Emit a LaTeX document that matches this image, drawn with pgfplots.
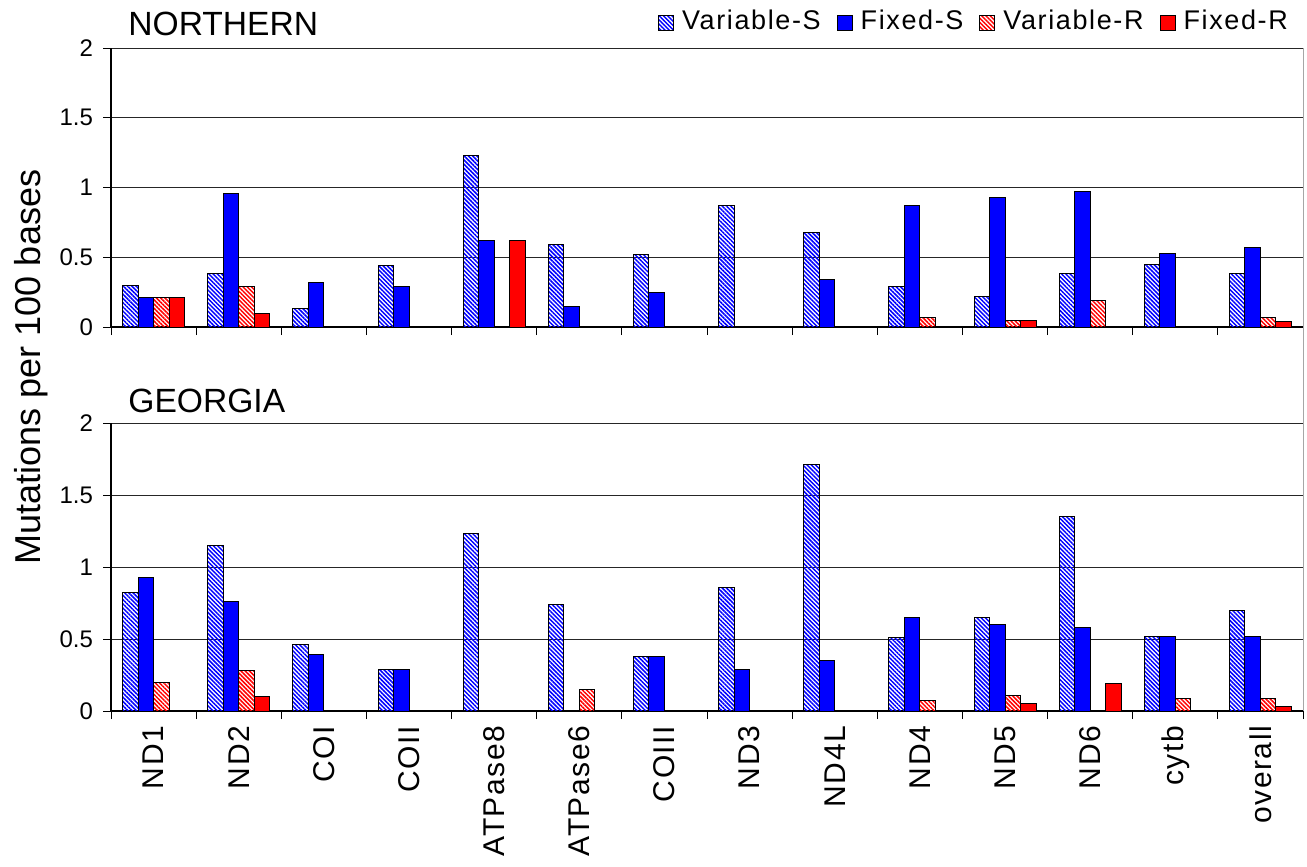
\documentclass[border=0pt]{standalone}
\usepackage{fontspec}
\setmainfont{Liberation Sans}
\newfontfamily\legfont[LetterSpace=6]{Liberation Sans}
\newfontfamily\labfont[LetterSpace=5]{Liberation Sans}
\usepackage{pgfplots}
\pgfplotsset{compat=1.18}
\usepackage{pgfplotstable}
\usetikzlibrary{patterns.meta}

\pgfplotstableread{
x VS FS VR FR
0 0.30 0.21 0.21 0.21
1 0.38 0.96 0.29 0.10
2 0.13 0.32 nan nan
3 0.44 0.29 nan nan
4 1.23 0.62 nan 0.62
5 0.59 0.15 nan nan
6 0.52 0.25 nan nan
7 0.87 nan nan nan
8 0.68 0.34 nan nan
9 0.29 0.87 0.07 nan
10 0.22 0.93 0.05 0.05
11 0.38 0.97 0.19 nan
12 0.45 0.53 nan nan
13 0.38 0.57 0.07 0.04
}\north

\pgfplotstableread{
x VS FS VR FR
0 0.82 0.93 0.20 nan
1 1.15 0.76 0.28 0.10
2 0.46 0.39 nan nan
3 0.29 0.29 nan nan
4 1.23 nan nan nan
5 0.74 nan 0.15 nan
6 0.38 0.38 nan nan
7 0.86 0.29 nan nan
8 1.71 0.35 nan nan
9 0.51 0.65 0.07 nan
10 0.65 0.60 0.11 0.05
11 1.35 0.58 nan 0.19
12 0.52 0.52 0.09 nan
13 0.70 0.52 0.09 0.03
}\georgia

\pgfplotsset{
  sqleg/.style={legend image code/.code={\draw[##1,line width=0.5pt] (0pt,-4.5pt) rectangle (7.5pt,3pt);}},
  vs/.style={draw=black, line width=0.5pt, pattern={Lines[angle=-45,distance=1.5pt,line width=0.75pt]}, pattern color=blue, sqleg},
  fs/.style={draw=black, line width=0.5pt, fill=blue, sqleg},
  vr/.style={draw=black, line width=0.5pt, pattern={Lines[angle=-45,distance=1.5pt,line width=0.75pt]}, pattern color=red, sqleg},
  fr/.style={draw=black, line width=0.5pt, fill=red, sqleg},
  panel/.style={
    scale only axis, width=596pt,
    ybar=0pt, bar width=7.75pt,
    xmin=-0.5, xmax=13.5, ymin=0, ymax=2,
    ytick={0,0.5,1,1.5,2},
    xtick={-0.5,0.5,...,13.5},
    xticklabels={},
    major tick length=4pt,
    tick align=outside,
    axis x line*=bottom, axis y line*=left,
    axis line style={line width=0.6pt, black},
    every tick/.style={black, line width=0.5pt},
    ymajorgrids,
    major grid style={black!85, line width=0.5pt},
    /pgf/number format/assume math mode=true,
    yticklabel style={font=\fontsize{12}{14}\selectfont, xshift=-1.5pt},
    clip=false,
  }
}

\begin{document}
\begin{tikzpicture}
\path[use as bounding box] (0pt,0pt) rectangle (653.5pt,-433.5pt);

\begin{axis}[panel, height=139.5pt,
  at={(55.5pt,-163.5pt)}, anchor=south west,
  legend style={draw=none, fill=none, legend columns=4,
    at={(0.996,1.165)}, anchor=north east,
    font=\legfont\fontsize{13.5}{15}\selectfont,
    /tikz/every odd column/.append style={column sep=2pt},
    /tikz/every even column/.append style={column sep=6pt}},
]
\addplot[vs] table[x=x,y=VS] {\north};
\addplot[fs] table[x=x,y=FS] {\north};
\addplot[vr] table[x=x,y=VR] {\north};
\addplot[fr] table[x=x,y=FR] {\north};
\legend{Variable-S,Fixed-S,Variable-R,Fixed-R}
\draw[black!35, line width=0.5pt] (rel axis cs:1,0) -- (rel axis cs:1,1);
\end{axis}

\begin{axis}[panel, height=144pt,
  at={(55.5pt,-355.5pt)}, anchor=south west,
  extra x ticks={0,...,13},
  extra x tick labels={ND1,ND2,COI,COII,ATPase8,ATPase6,COIII,ND3,ND4L,ND4,ND5,ND6,cytb,overall},
  extra x tick style={xtick style={draw=none}, xticklabel style={rotate=90, anchor=east, font=\labfont\fontsize{15}{17}\selectfont}},
]
\addplot[vs] table[x=x,y=VS] {\georgia};
\addplot[fs] table[x=x,y=FS] {\georgia};
\addplot[vr] table[x=x,y=VR] {\georgia};
\addplot[fr] table[x=x,y=FR] {\georgia};
\draw[black!35, line width=0.5pt] (rel axis cs:1,0) -- (rel axis cs:1,1.55);
\end{axis}

\node[anchor=base west, inner sep=0pt, font=\fontsize{16.8}{19}\selectfont] at (64pt,-17.5pt) {NORTHERN};
\node[anchor=base west, inner sep=0pt, font=\fontsize{16.8}{19}\selectfont] at (64pt,-206pt) {GEORGIA};
\node[anchor=base, rotate=90, inner sep=0pt, font=\fontsize{18}{20}\selectfont] at (20pt,-183.5pt) {Mutations per 100 bases};
\end{tikzpicture}
\end{document}
